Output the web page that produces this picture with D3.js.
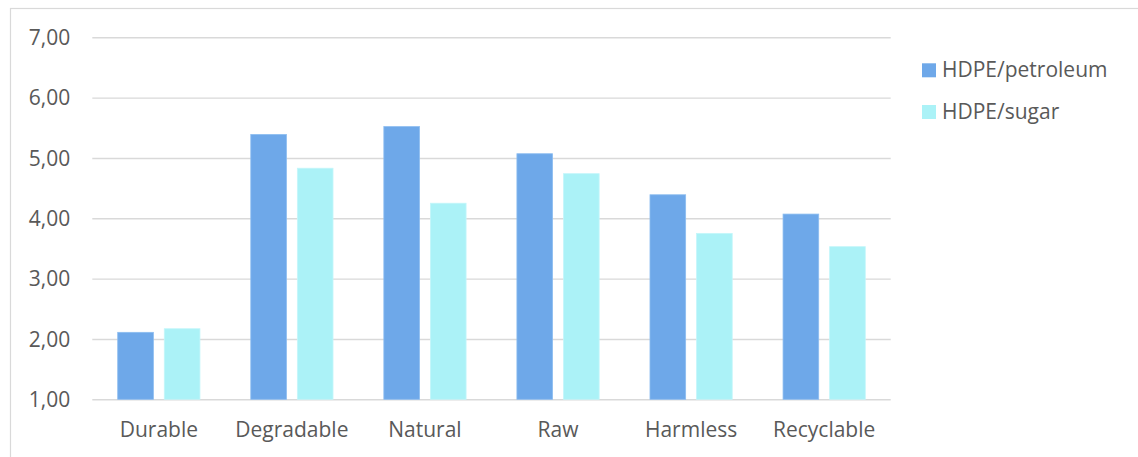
<!DOCTYPE html>
<html>
<head>
<meta charset="utf-8">
<script src="https://cdn.jsdelivr.net/npm/d3@7"></script>
<style>
  html, body { margin: 0; padding: 0; background: #fff; }
  svg { display: block; }
  text { font-family: "Open Sans", Lato, sans-serif; fill: #595959; }
</style>
</head>
<body>
<script>
// Rating per attribute for the two HDPE sources
const categories = ["Durable", "Degradable", "Natural", "Raw", "Harmless", "Recyclable"];
const seriesNames = ["HDPE/petroleum", "HDPE/sugar"];
const petroleum = [2.11, 5.39, 5.52, 5.07, 4.39, 4.07];
const sugar = [2.17, 4.83, 4.25, 4.74, 3.75, 3.53];
const yTicks = [1, 2, 3, 4, 5, 6, 7];
const colors = ["#6ea8e9", "#abf2f7"];

const W = 1138, H = 457;
const plot = { left: 92.3, right: 890.7, top: 37.3, bottom: 399.3 };
const FONT = "'Open Sans', Lato, sans-serif";
const FS = 21;

const svg = d3.select("body").append("svg")
  .attr("width", W).attr("height", H);

// chart frame (extends past the right and bottom edges)
svg.append("rect")
  .attr("x", 10.5).attr("y", 8.5)
  .attr("width", W + 20).attr("height", H + 20)
  .attr("fill", "none").attr("stroke", "#d9d9d9").attr("stroke-width", 1.2);

const x = d3.scaleBand().domain(categories).range([plot.left, plot.right]).padding(0);
const bandW = x.bandwidth();
const xSub = d3.scaleBand().domain(seriesNames)
  .range([bandW * 0.191, bandW * 0.809]).paddingInner(0.234).paddingOuter(0);

const y = d3.scaleLinear().domain([1, 7]).range([plot.bottom, plot.top]);

// gridlines + y labels
const yAxis = d3.axisLeft(y).tickValues(yTicks)
  .tickSize(-(plot.right - plot.left))
  .tickPadding(22)
  .tickFormat(d => d3.format(".2f")(d).replace(".", ","));
const gy = svg.append("g").attr("transform", `translate(${plot.left},0)`).call(yAxis);
gy.select(".domain").remove();
gy.selectAll(".tick line").attr("stroke", "#d9d9d9").attr("stroke-width", 1.4);
gy.selectAll(".tick text").attr("font-size", FS).attr("fill", "#595959")
  .attr("dy", "0.35em")
  .style("font-family", FONT);

// bars
const rows = categories.map((c, i) => ({ cat: c, values: [petroleum[i], sugar[i]] }));
const groups = svg.append("g").selectAll("g").data(rows).join("g")
  .attr("transform", d => `translate(${x(d.cat)},0)`);
groups.selectAll("rect")
  .data(d => d.values.map((v, j) => ({ name: seriesNames[j], v, j })))
  .join("rect")
  .attr("x", d => xSub(d.name))
  .attr("width", xSub.bandwidth())
  .attr("y", d => y(d.v))
  .attr("height", d => y(1) - y(d.v))
  .attr("fill", d => colors[d.j])
  .attr("stroke", d => d.j === 0 ? "#8dbdf0" : "#c4f6fa")
  .attr("stroke-width", 0.8);

// x labels
const xAxis = d3.axisBottom(x).tickSize(0).tickPadding(0);
const gx = svg.append("g").attr("transform", `translate(0,${plot.bottom})`).call(xAxis);
gx.select(".domain").remove();
gx.selectAll(".tick text").attr("font-size", FS).attr("fill", "#595959")
  .attr("y", 38).attr("dy", 0)
  .style("font-family", FONT);

// legend
const legend = svg.append("g").attr("transform", "translate(922,0)");
const legendY = [63.3, 105];
seriesNames.forEach((n, i) => {
  legend.append("rect").attr("x", 0).attr("y", legendY[i])
    .attr("width", 14).attr("height", 14).attr("fill", colors[i]);
  legend.append("text").attr("x", 20).attr("y", legendY[i] + 14)
    .attr("font-size", FS).style("font-family", FONT).text(n);
});
</script>
</body>
</html>
